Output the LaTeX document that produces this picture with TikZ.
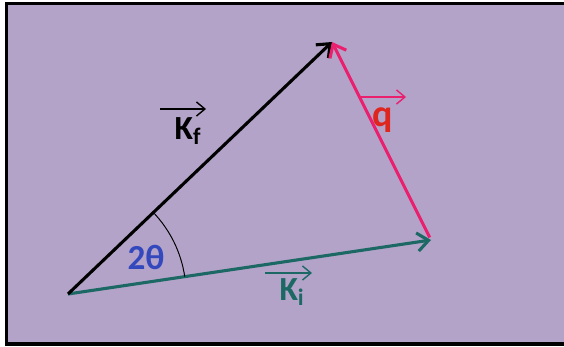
\documentclass[tikz,border=0pt]{standalone}
\usepackage{fontspec}
\setmainfont{Carlito}
\usetikzlibrary{arrows.meta, angles}

\definecolor{lavbg}{RGB}{179,163,201}
\definecolor{kiteal}{RGB}{28,104,100}
\definecolor{qpink}{RGB}{234,32,110}
\definecolor{qred}{RGB}{222,38,30}
\definecolor{angblue}{RGB}{52,72,190}

\tikzset{
  vecline/.style={line width=2.2pt, -{Straight Barb[length=8pt, width=13pt, line width=2.2pt]}},
  vecsign/.style={line width=1pt, -{Straight Barb[length=6pt, width=10pt]}},
  veclabel/.style={inner sep=0pt, font=\bfseries\fontsize{24}{28}\selectfont}
}

\begin{document}
\begin{tikzpicture}[x=0.025cm, y=-0.025cm]
      \useasboundingbox (0,0) rectangle (564,347);

      % Cadre (ouvert a droite)
      \fill[lavbg] (6.5,3.5) rectangle (564,344);
      \draw[line width=2.2pt] (564,3.5) -- (6.5,3.5) -- (6.5,344) -- (564,344);

      % Sommets du triangle
      \coordinate (o) at (68,294);
      \coordinate (f) at (332,42);
      \coordinate (i) at (431,240);

      % Vecteurs
      \draw[vecline, kiteal] (o) -- (i);
      \draw[vecline] (o) -- (f);
      \draw[vecline, qpink, shorten <=2pt] (i) -- (f);

      % Angle 2 theta
      \pic[draw, line width=0.7pt, angle radius=2.95cm] {angle = i--o--f};
      \node[inner sep=0pt, text=angblue, font=\bfseries\fontsize{25}{28}\selectfont] (theta) at (146,257) {2θ};

      % Etiquettes
      \node[veclabel] (kf) at (188,131) {K\textsubscript{f}};
      \draw[vecsign] ([shift={(-28,-22)}]kf.center) -- ([shift={(18,-22)}]kf.center);

      \node[veclabel, text=kiteal] (ki) at (292,292) {K\textsubscript{i}};
      \draw[vecsign, kiteal] ([shift={(-27,-19)}]ki.center) -- ([shift={(20,-19)}]ki.center);

      \node[inner sep=0pt, text=qred, font=\bfseries\fontsize{27}{30}\selectfont] (q) at (383,120) {q};
      \draw[vecsign, qpink] ([shift={(-25,-23)}]q.center) -- ([shift={(23,-23)}]q.center);

\end{tikzpicture}
\end{document}
